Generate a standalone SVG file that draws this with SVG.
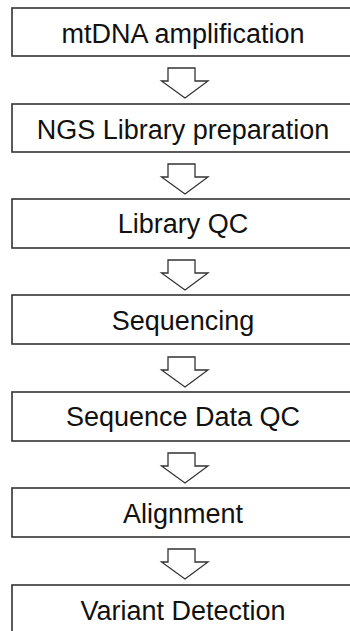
<svg xmlns="http://www.w3.org/2000/svg" width="350" height="631" viewBox="0 0 350 631">
  <style>
    .box { fill: #ffffff; stroke: #333333; stroke-width: 1.6; }
    .lbl { font-family: "Liberation Sans", Arial, sans-serif; font-size: 27px; fill: #111111; text-anchor: middle; }
    .arrow { fill: #ffffff; stroke: #333333; stroke-width: 1.3; stroke-linejoin: miter; }
  </style>
  <defs>
    <!-- hollow block arrow pointing down, origin at top of shaft centre -->
    <path id="down" d="M -16.5 0 H 10.5 V 13 H 23.5 L 0.5 30 L -23 13 H -16.5 Z"/>
  </defs>
  <rect width="350" height="631" fill="#ffffff"/>

  <g id="connectors">
    <use href="#down" class="arrow" x="184.5" y="68"/>
    <use href="#down" class="arrow" x="184.5" y="164"/>
    <use href="#down" class="arrow" x="184.5" y="260"/>
    <use href="#down" class="arrow" x="184.5" y="357"/>
    <use href="#down" class="arrow" x="184.5" y="453"/>
    <use href="#down" class="arrow" x="184.5" y="549"/>
  </g>

  <g id="n1">
    <rect class="box" x="12" y="8" width="345" height="48"/>
    <text class="lbl" x="183" y="42.5">mtDNA amplification</text>
  </g>
  <g id="n2">
    <rect class="box" x="12" y="104" width="345" height="48"/>
    <text class="lbl" x="183" y="138.5">NGS Library preparation</text>
  </g>
  <g id="n3">
    <rect class="box" x="12" y="199" width="345" height="49"/>
    <text class="lbl" x="183" y="233">Library QC</text>
  </g>
  <g id="n4">
    <rect class="box" x="12" y="295" width="345" height="49"/>
    <text class="lbl" x="183" y="329.5">Sequencing</text>
  </g>
  <g id="n5">
    <rect class="box" x="12" y="392" width="345" height="49"/>
    <text class="lbl" x="183" y="426">Sequence Data QC</text>
  </g>
  <g id="n6">
    <rect class="box" x="12" y="488" width="345" height="49"/>
    <text class="lbl" x="183" y="522.5">Alignment</text>
  </g>
  <g id="n7">
    <rect class="box" x="12" y="585" width="345" height="60"/>
    <text class="lbl" x="183" y="619.5">Variant Detection</text>
  </g>
</svg>
